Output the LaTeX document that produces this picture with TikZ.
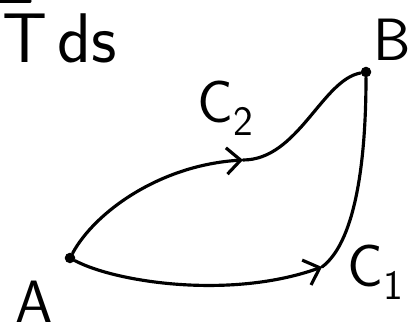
\documentclass[tikz,border=0pt]{standalone}
\usepackage{tikz}
\usetikzlibrary{arrows.meta, positioning}

\begin{document}
\begin{tikzpicture}[
		x=0.02cm, y=-0.02cm,
		curve/.style={line width=1.8pt, line cap=round},
		dir/.style={curve, -{Straight Barb[length=8pt, width=15pt, line width=1.8pt]}},
		pt/.style={circle, fill, inner sep=0pt, minimum size=6pt},
		lbl/.style={font=\sffamily\fontsize{34}{34}\selectfont, inner sep=0pt}
		]
		\useasboundingbox (0,0) rectangle (412,333);
		
		% Integrand (cut at the top)
		\node[lbl, font=\sffamily\fontsize{40}{40}\selectfont, anchor=west] (ds) at (2,38) {T\hspace{0.15em}ds};
		\draw[curve] (0,1) -- (30,1);
		
		% End points
		\node[pt] (A) at (70,258) {};
		\node[pt] (B) at (366,72) {};
		\node[lbl] (la) at (34,302) {A};
		\node[lbl] (lb) at (392,40) {B};
		
		% Curve labels
		\node[lbl] (lc2) at (226,108) {C\textsubscript{2}};
		\node[lbl] (lc1) at (376,272) {C\textsubscript{1}};
		
		% Arrow points
		\coordinate (m2) at (243,160);
		\coordinate (m1) at (322,267);
		
		% C2
		\draw[dir] (A) .. controls (95,212) and (160,165) .. (m2);
		\draw[curve] (m2) .. controls (298,160) and (322,80) .. (B);
		
		% C1
		\draw[dir] (A) .. controls (115,282) and (230,300) .. (m1);
		\draw[curve] (m1) .. controls (358,240) and (366,150) .. (B);
		
\end{tikzpicture}
\end{document}
